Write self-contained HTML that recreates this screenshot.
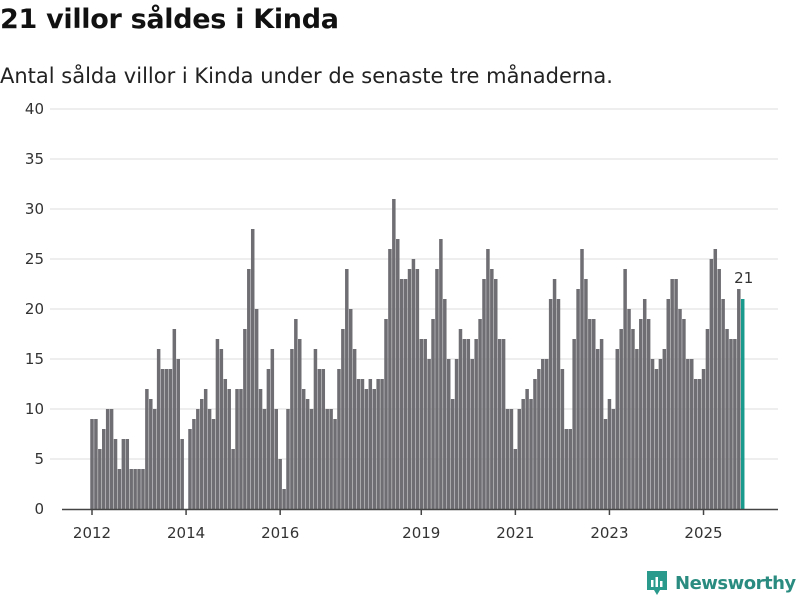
<!DOCTYPE html>
<html><head><meta charset="utf-8"><style>
body{margin:0;width:800px;height:600px;background:#fff;font-family:"Liberation Sans","DejaVu Sans",sans-serif;overflow:hidden;position:relative}
h1{position:absolute;left:0;top:4px;margin:0;font-size:27px;font-weight:bold;color:#111;font-family:"DejaVu Sans",sans-serif;letter-spacing:-0.3px}
.sub{position:absolute;left:0;top:64px;font-size:21px;color:#222;font-family:"DejaVu Sans",sans-serif}
svg{position:absolute;left:0;top:0}
.t{font-size:15px;fill:#333;font-family:"DejaVu Sans",sans-serif}
</style></head><body>
<h1>21 villor såldes i Kinda</h1>
<div class="sub">Antal sålda villor i Kinda under de senaste tre månaderna.</div>
<svg id="c" width="800" height="600"></svg>
<script>
const values2012 = [9,9,6,8,10,10,7,4,7,7,4,4];
const values2013 = [4,4,12,11,10,16,14,14,14,18,15,7];
const values2014 = [0,8,9,10,11,12,10,9,17,16,13,12];
const values2015 = [6,12,12,18,24,28,20,12,10,14,16,10];
const values2016 = [5,2,10,16,19,17,12,11,10,16,14,14];
const values2017 = [10,10,9,14,18,24,20,16,13,13,12,13];
const values2018 = [12,13,13,19,26,31,27,23,23,24,25,24];
const values2019 = [17,17,15,19,24,27,21,15,11,15,18,17];
const values2020 = [17,15,17,19,23,26,24,23,17,17,10,10];
const values2021 = [6,10,11,12,11,13,14,15,15,21,23,21];
const values2022 = [14,8,8,17,22,26,23,19,19,16,17,9];
const values2023 = [11,10,16,18,24,20,18,16,19,21,19,15];
const values2024 = [14,15,16,21,23,23,20,19,15,15,13,13];
const values2025 = [14,18,25,26,24,21,18,17,17,22,21];
const startYear = 2012;
const yTicks = [0,5,10,15,20,25,30,35,40];
const xTickYears = [2012,2014,2016,2019,2021,2023,2025];
const values = [].concat(values2012,values2013,values2014,values2015,values2016,values2017,values2018,values2019,values2020,values2021,values2022,values2023,values2024,values2025);
const NS="http://www.w3.org/2000/svg";
const svg=document.getElementById('c');
const y=v=>509-v*10;
const step=3.92;
const x=i=>92+i*step;
function mk(t,a){const e=document.createElementNS(NS,t);for(const k in a)e.setAttribute(k,a[k]);svg.appendChild(e);return e;}
yTicks.forEach(v=>{
  if(v>0){const g=mk('line',{x1:50,x2:778,y1:y(v),y2:y(v),stroke:'#dcdcdc','stroke-width':1});
  
  }
  const t=mk('text',{x:44,y:y(v)+5,'text-anchor':'end',class:'t'});t.textContent=v;
  
  
});
values.forEach((v,i)=>{
  const last=i===values.length-1;
  const r=mk('rect',{x:x(i)-1.75,y:y(v),width:3.5,height:v*10,fill:last?'#1a9a8c':'#6f6e73'});
  
  
  if(last){const t=mk('text',{x:x(i)+1,y:y(v)-16,'text-anchor':'middle',class:'t'});t.textContent=v;
  
  }
});
const ax=mk('line',{x1:62,x2:778,y1:509.5,y2:509.5,stroke:'#444','stroke-width':1.5});


xTickYears.forEach(yr=>{
  const xi=x((yr-startYear)*12);
  const l=mk('line',{x1:xi,x2:xi,y1:509,y2:515,stroke:'#444','stroke-width':1.5});
  
  
  const t=mk('text',{x:xi,y:538,'text-anchor':'middle',class:'t'});t.textContent=yr;
  
  
});
</script>
<div style="position:absolute;left:645px;top:569px;height:28px;display:flex;align-items:center">
<svg width="24" height="28" style="position:static"><path d="M2 2h20v19h-7l-3 5-3-5H2z" fill="#2a9a8c"/><rect x="6" y="11" width="2.5" height="7" fill="#fff"/><rect x="10.5" y="8" width="2.5" height="10" fill="#fff"/><rect x="15" y="12" width="2.5" height="6" fill="#fff"/></svg>
<span style="font-size:18px;font-weight:bold;color:#2a8c80;margin-left:6px;font-family:'DejaVu Sans',sans-serif;letter-spacing:-0.5px">Newsworthy</span></div>
</body></html>
